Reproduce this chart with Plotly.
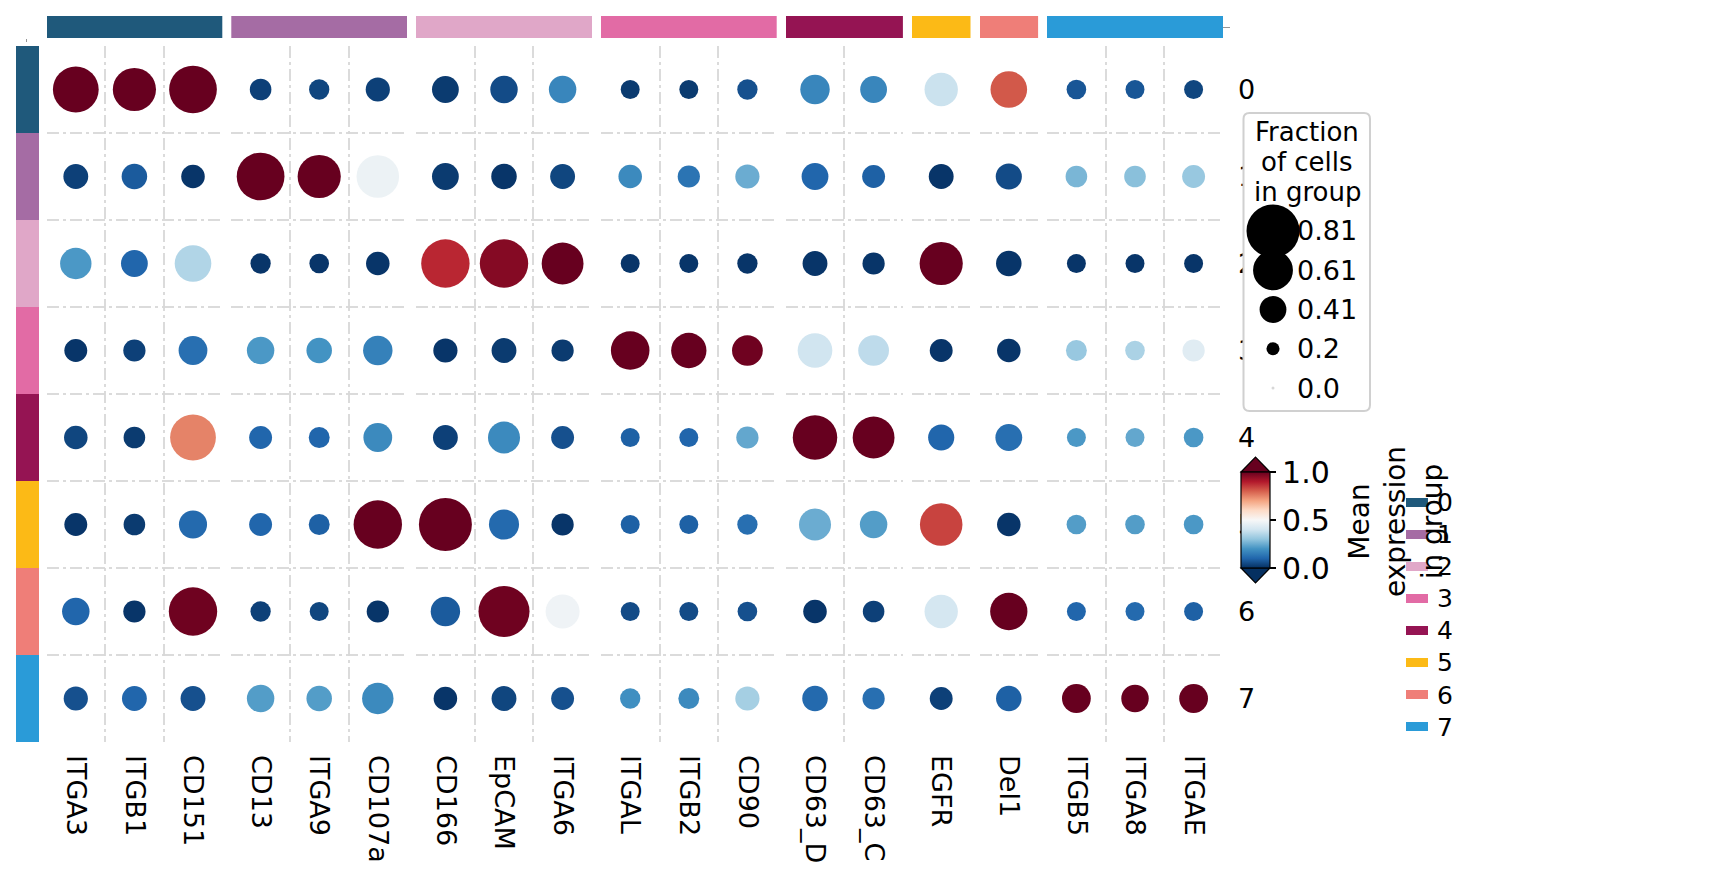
import plotly.graph_objects as go
import plotly.colors as pc

W, H = 1726, 880
FONT = "DejaVu Sans"

# ---------------- data ----------------
genes = ["ITGA3", "ITGB1", "CD151", "CD13", "ITGA9", "CD107a", "CD166", "EpCAM", "ITGA6",
         "ITGAL", "ITGB2", "CD90", "CD63_D", "CD63_C", "EGFR", "Del1", "ITGB5", "ITGA8", "ITGAE"]
gene_group = [0, 0, 0, 1, 1, 1, 2, 2, 2, 3, 3, 3, 4, 4, 5, 6, 7, 7, 7]
clusters = ["0", "1", "2", "3", "4", "5", "6", "7"]
group_colors = ["#1f597b", "#a56ca4", "#e0a7c8", "#e26ba5", "#951453", "#fcba16", "#ef7e78", "#2a9bd8"]

# fraction of cells in group (per cluster row, gene order as above)
frac_0 = [0.70, 0.66, 0.73, 0.33, 0.31, 0.37, 0.41, 0.42, 0.42, 0.29, 0.29, 0.31, 0.45, 0.41, 0.51, 0.56, 0.30, 0.29, 0.29]
frac_1 = [0.38, 0.39, 0.36, 0.73, 0.66, 0.65, 0.41, 0.39, 0.38, 0.36, 0.34, 0.37, 0.41, 0.35, 0.38, 0.40, 0.33, 0.33, 0.35]
frac_2 = [0.48, 0.41, 0.56, 0.31, 0.30, 0.36, 0.74, 0.74, 0.64, 0.29, 0.29, 0.31, 0.38, 0.34, 0.66, 0.39, 0.29, 0.29, 0.29]
frac_3 = [0.35, 0.34, 0.44, 0.42, 0.39, 0.45, 0.37, 0.38, 0.34, 0.59, 0.54, 0.47, 0.53, 0.47, 0.35, 0.36, 0.32, 0.30, 0.34]
frac_4 = [0.36, 0.33, 0.70, 0.35, 0.32, 0.44, 0.38, 0.49, 0.35, 0.29, 0.29, 0.34, 0.68, 0.64, 0.40, 0.41, 0.29, 0.29, 0.30]
frac_5 = [0.35, 0.33, 0.43, 0.35, 0.32, 0.74, 0.81, 0.46, 0.34, 0.29, 0.29, 0.31, 0.49, 0.42, 0.65, 0.36, 0.30, 0.30, 0.30]
frac_6 = [0.42, 0.34, 0.74, 0.31, 0.29, 0.34, 0.45, 0.78, 0.52, 0.29, 0.29, 0.30, 0.36, 0.33, 0.51, 0.57, 0.29, 0.29, 0.29]
frac_7 = [0.37, 0.38, 0.38, 0.42, 0.39, 0.48, 0.36, 0.38, 0.35, 0.31, 0.32, 0.37, 0.39, 0.34, 0.35, 0.39, 0.44, 0.42, 0.44]

# mean expression in group
expr_0 = [1.00, 1.00, 1.00, 0.03, 0.04, 0.03, 0.02, 0.05, 0.17, 0.02, 0.02, 0.06, 0.17, 0.17, 0.39, 0.81, 0.07, 0.07, 0.04]
expr_1 = [0.03, 0.08, 0.01, 1.00, 1.00, 0.47, 0.02, 0.01, 0.04, 0.18, 0.13, 0.25, 0.10, 0.09, 0.01, 0.05, 0.27, 0.29, 0.31]
expr_2 = [0.21, 0.10, 0.35, 0.01, 0.01, 0.01, 0.88, 0.96, 1.00, 0.01, 0.01, 0.01, 0.01, 0.01, 1.00, 0.01, 0.01, 0.01, 0.01]
expr_3 = [0.01, 0.03, 0.12, 0.21, 0.20, 0.16, 0.01, 0.02, 0.02, 1.00, 1.00, 0.99, 0.40, 0.37, 0.01, 0.01, 0.31, 0.34, 0.44]
expr_4 = [0.04, 0.02, 0.75, 0.10, 0.10, 0.18, 0.03, 0.18, 0.06, 0.09, 0.10, 0.24, 1.00, 1.00, 0.10, 0.12, 0.21, 0.24, 0.21]
expr_5 = [0.01, 0.02, 0.11, 0.10, 0.09, 1.00, 1.00, 0.11, 0.01, 0.09, 0.09, 0.12, 0.25, 0.22, 0.84, 0.01, 0.22, 0.22, 0.21]
expr_6 = [0.10, 0.01, 0.99, 0.03, 0.04, 0.01, 0.08, 0.99, 0.48, 0.05, 0.05, 0.06, 0.01, 0.03, 0.41, 1.00, 0.10, 0.11, 0.09]
expr_7 = [0.06, 0.10, 0.06, 0.22, 0.22, 0.18, 0.01, 0.04, 0.06, 0.19, 0.18, 0.33, 0.11, 0.12, 0.03, 0.09, 1.00, 1.00, 1.00]

size_legend_values = [0.81, 0.61, 0.41, 0.2, 0.0]
size_legend_labels = ["0.81", "0.61", "0.41", "0.2", "0.0"]
size_legend_title = ["Fraction", "of cells", "in group"]
cbar_ticks = [0.0, 0.5, 1.0]
cbar_ticktext = ["0.0", "0.5", "1.0"]

fractions = [frac_0, frac_1, frac_2, frac_3, frac_4, frac_5, frac_6, frac_7]
expressions = [expr_0, expr_1, expr_2, expr_3, expr_4, expr_5, expr_6, expr_7]

# ---------------- layout helpers ----------------
def px2x(p):
    return p / W

def py2y(p):
    return 1 - p / H

X0, CW, GAP = 46.5, 58.6, 9.0
GRID_TOP, GRID_BOT = 46.0, 742.0
SIZE_K = 65.4  # px diameter per unit fraction

n_groups = len(group_colors)
n_rows = len(clusters)
group_genes = [[g for g, k in zip(genes, gene_group) if k == gi] for gi in range(n_groups)]

colorscale_list = pc.diverging.RdBu[::-1]
n_c = len(colorscale_list)
colorscale = [[i / (n_c - 1), c] for i, c in enumerate(colorscale_list)]

GRIDCOL = "rgba(215,215,215,0.9)"
GRIDDASH = "12px,4px,3px,4px"

fig = go.Figure()
layout = dict(
    width=W, height=H, autosize=False,
    margin=dict(l=0, r=0, t=0, b=0, pad=0),
    paper_bgcolor="white", plot_bgcolor="#ffffff",
    showlegend=False,
    font=dict(family=FONT, color="black"),
    bargap=0,
)

# main y axis (clusters): row index, labels on the right, grid on row top edges
row_idx = list(range(n_rows))
layout["yaxis"] = dict(
    domain=[py2y(GRID_BOT), py2y(GRID_TOP)],
    range=[n_rows - 0.5, -0.5],
    tickmode="array", tickvals=row_idx, ticktext=clusters,
    showgrid=False,
    minor=dict(tickmode="array", tickvals=[i - 0.5 for i in row_idx], showgrid=True,
               gridcolor=GRIDCOL, griddash=GRIDDASH, gridwidth=1.5, ticks=""),
    ticks="", side="right", anchor="x%d" % n_groups,
    showline=False, zeroline=False,
    tickfont=dict(size=27, family=FONT, color="black"),
    ticklabelstandoff=14,
)
# top strip axis
layout["yaxis3"] = dict(domain=[py2y(38), py2y(16)], range=[0, 1], visible=False, anchor="x1")

col_start = 0
for gi in range(n_groups):
    n = len(group_genes[gi])
    local_idx = list(range(n))
    left = X0 + col_start * CW + gi * GAP
    right = left + n * CW
    ax = dict(
        domain=[px2x(left), px2x(right)],
        range=[-0.5, n - 0.5],
        tickmode="array", tickvals=local_idx, ticktext=group_genes[gi],
        showgrid=False,
        minor=dict(tickmode="array", tickvals=[i - 0.5 for i in local_idx], showgrid=True,
                   gridcolor=GRIDCOL, griddash=GRIDDASH, gridwidth=1.5, ticks=""),
        ticks="", anchor="y",
        showline=False, zeroline=False, tickangle=90,
        tickfont=dict(size=27, family=FONT, color="black"),
        ticklabelstandoff=12,
    )
    layout["xaxis" if gi == 0 else "xaxis%d" % (gi + 1)] = ax
    col_start += n

    # dots for this group
    xs, ys, ss, cs, hov = [], [], [], [], []
    for ri in row_idx:
        for gj, gname in enumerate(genes):
            if gene_group[gj] == gi:
                xs.append(group_genes[gi].index(gname))
                ys.append(ri)
                ss.append(fractions[ri][gj])
                cs.append(expressions[ri][gj])
                hov.append("%s, cluster %s" % (gname, clusters[ri]))
    xname = "x" if gi == 0 else "x%d" % (gi + 1)
    marker = dict(
        size=ss, sizemode="diameter", sizeref=1.0 / SIZE_K,
        color=cs, colorscale=colorscale, cmin=0, cmax=1,
        line=dict(width=0), opacity=1,
        showscale=(gi == 0),
    )
    if gi == 0:
        marker["colorbar"] = dict(
            x=px2x(1241), xanchor="left", xpad=0,
            y=py2y(520), yanchor="middle", ypad=0,
            len=96, lenmode="pixels", thickness=29, thicknessmode="pixels",
            outlinewidth=1.2, outlinecolor="black",
            tickvals=cbar_ticks, ticktext=cbar_ticktext,
            ticks="outside", ticklen=6, tickwidth=1.5, tickcolor="black",
            tickfont=dict(size=30, color="black", family=FONT),
        )
    fig.add_trace(go.Scatter(x=xs, y=ys, mode="markers", marker=marker, text=hov,
                             xaxis=xname, yaxis="y", cliponaxis=False, hoverinfo="text"))
    # top group bar
    fig.add_trace(go.Bar(x=local_idx, y=[1] * n, width=[1] * n,
                         marker=dict(color=group_colors[gi], line=dict(width=0)),
                         xaxis=xname, yaxis="y3", hoverinfo="skip"))

# left cluster strip
layout["xaxis9"] = dict(domain=[px2x(16), px2x(39)], range=[0, 1], visible=False, anchor="y")
fig.add_trace(go.Bar(y=row_idx, x=[1] * n_rows, orientation="h", width=[1] * n_rows,
                     marker=dict(color=group_colors, line=dict(width=0)),
                     xaxis="x9", yaxis="y", hoverinfo="skip"))

# cluster colour legend (patches + labels)
layout["xaxis11"] = dict(domain=[px2x(1406), px2x(1428)], range=[0, 1], visible=False, anchor="y11")
layout["yaxis11"] = dict(
    domain=[py2y(743), py2y(486)], type="category", categoryorder="array",
    categoryarray=clusters, range=[n_rows - 0.5, -0.5],
    showgrid=False, zeroline=False, showline=False, ticks="", side="right", anchor="x11",
    tickfont=dict(size=25, family=FONT, color="black"), ticklabelstandoff=8,
)
fig.add_trace(go.Bar(y=clusters, x=[1] * n_rows, orientation="h", width=[0.28] * n_rows,
                     marker=dict(color=group_colors, line=dict(width=0)),
                     xaxis="x11", yaxis="y11", hoverinfo="skip"))

fig.update_layout(**layout)

# ---------------- decorations ----------------
shapes = []
# colorbar extension triangles
cb_l, cb_r, cb_t, cb_b = 1241, 1270, 472, 568
shapes.append(dict(type="path", xref="paper", yref="paper", layer="above",
                   path="M %f,%f L %f,%f L %f,%f Z" % (px2x(cb_l), py2y(cb_t), px2x(cb_r), py2y(cb_t),
                                                       px2x((cb_l + cb_r) / 2), py2y(cb_t - 15)),
                   fillcolor=colorscale_list[-1], line=dict(color="black", width=1.2)))
shapes.append(dict(type="path", xref="paper", yref="paper", layer="above",
                   path="M %f,%f L %f,%f L %f,%f Z" % (px2x(cb_l), py2y(cb_b), px2x(cb_r), py2y(cb_b),
                                                       px2x((cb_l + cb_r) / 2), py2y(cb_b + 15)),
                   fillcolor=colorscale_list[0], line=dict(color="black", width=1.2)))

# size legend frame (rounded)
bx0, bx1, by0, by1, r = 1243.5, 1370, 113, 411, 6
rx, ry = r / W, r / H
X_0, X_1, Y_0, Y_1 = px2x(bx0), px2x(bx1), py2y(by0), py2y(by1)
path = ("M %f,%f L %f,%f Q %f,%f %f,%f L %f,%f Q %f,%f %f,%f L %f,%f Q %f,%f %f,%f L %f,%f Q %f,%f %f,%f Z" % (
    X_0 + rx, Y_0, X_1 - rx, Y_0, X_1, Y_0, X_1, Y_0 - ry,
    X_1, Y_1 + ry, X_1, Y_1, X_1 - rx, Y_1,
    X_0 + rx, Y_1, X_0, Y_1, X_0, Y_1 + ry,
    X_0, Y_0 - ry, X_0, Y_0, X_0 + rx, Y_0))
shapes.append(dict(type="path", xref="paper", yref="paper", layer="above", path=path,
                   fillcolor="white", line=dict(color="rgb(208,208,208)", width=2)))

annotations = []
LEG_CX, LEG_Y0, LEG_DY = 1273, 231, 39.25
for i, (v, lab) in enumerate(zip(size_legend_values, size_legend_labels)):
    yc = LEG_Y0 + i * LEG_DY
    d = v * SIZE_K if v > 0 else 3
    shapes.append(dict(type="circle", xref="paper", yref="paper", layer="above",
                       xsizemode="pixel", ysizemode="pixel",
                       xanchor=px2x(LEG_CX), yanchor=py2y(yc),
                       x0=-d / 2, x1=d / 2, y0=-d / 2, y1=d / 2,
                       fillcolor="black" if v > 0 else "rgb(215,215,215)", line=dict(width=0)))
    annotations.append(dict(text=lab, x=px2x(1295), y=py2y(yc), xref="paper", yref="paper",
                            xanchor="left", yanchor="middle", showarrow=False,
                            font=dict(size=27, family=FONT, color="black")))
for i, line in enumerate(size_legend_title):
    annotations.append(dict(text=line, x=px2x(1307), y=py2y(132 + i * 30),
                            xref="paper", yref="paper", xanchor="center", yanchor="middle",
                            showarrow=False, font=dict(size=26, family=FONT, color="black")))
annotations.append(dict(text="Mean<br>expression<br>in group", x=px2x(1396), y=py2y(522),
                        xref="paper", yref="paper", xanchor="center", yanchor="middle",
                        showarrow=False, align="center", textangle=-90,
                        font=dict(size=28, family=FONT, color="black")))

# small spine remnants
shapes.append(dict(type="line", xref="paper", yref="paper", layer="above",
                   x0=px2x(26.5), x1=px2x(26.5), y0=py2y(39), y1=py2y(45),
                   line=dict(color="rgb(150,150,150)", width=1, dash="dot")))
shapes.append(dict(type="line", xref="paper", yref="paper", layer="above",
                   x0=px2x(1223), x1=px2x(1230), y0=py2y(27.5), y1=py2y(27.5),
                   line=dict(color="rgb(150,150,150)", width=1)))

fig.update_layout(shapes=shapes, annotations=annotations)

fig.write_html("out.html", config={"displayModeBar": False},
               post_script="document.body.style.margin='0';document.body.style.overflow='hidden';")
